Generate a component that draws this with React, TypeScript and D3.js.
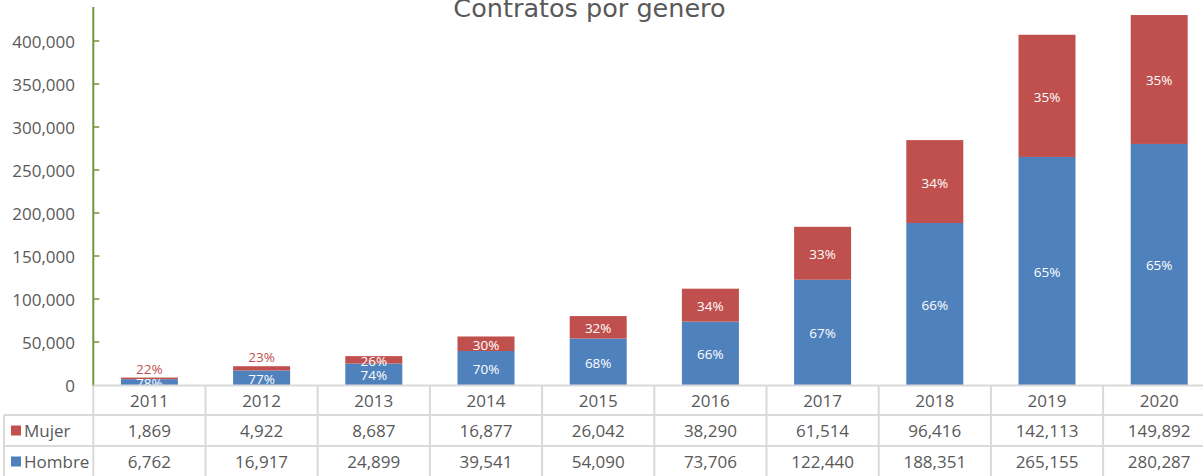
import React from "react";
import * as d3 from "d3";

const years = ["2011", "2012", "2013", "2014", "2015", "2016", "2017", "2018", "2019", "2020"];
const mujer = [1869, 4922, 8687, 16877, 26042, 38290, 61514, 96416, 142113, 149892];
const hombre = [6762, 16917, 24899, 39541, 54090, 73706, 122440, 188351, 265155, 280287];
const yTicks = [0, 50000, 100000, 150000, 200000, 250000, 300000, 350000, 400000];
const seriesNames = ["Mujer", "Hombre"];

const W = 1203;
const H = 476;
const BLUE = "#4F81BD";
const RED = "#C0504D";
const GRID = "#D9D9D9";
const TEXT = "#595959";
const AXIS = "#77933C";
const FONT = "'Open Sans', sans-serif";

export default function App() {
  const plotLeft = 93.3;
  const band = 112.2;
  const zeroY = 385;
  const x = d3.scaleBand<string>().domain(years).range([plotLeft, plotLeft + band * years.length]).paddingInner(0).paddingOuter(0);
  const y = d3.scaleLinear().domain([0, 400000]).range([zeroY, 41]);
  const barW = x.bandwidth() * 0.508;
  const fmt = d3.format(",");

  const rows = years.map((yr, i) => {
    const total = mujer[i] + hombre[i];
    return {
      yr,
      h: hombre[i],
      m: mujer[i],
      total,
      pm: Math.round((mujer[i] / total) * 100),
      ph: Math.round((hombre[i] / total) * 100),
    };
  });

  const tableTop = zeroY + 0.5;
  const row1 = 415;
  const row2 = 446;
  const tableBottom = H + 5;
  const xRight = W + 5;

  return (
    <svg width={W} height={H} style={{ position: "absolute", left: 0, top: 0, background: "#fff" }}>
      <defs>
        <clipPath id="plotClip">
          <rect x={plotLeft} y={0} width={W} height={zeroY} />
        </clipPath>
      </defs>
      <rect x={0} y={0} width={W} height={H} fill="#fff" />
      <text x={589.5} y={17.3} textAnchor="middle" fontFamily="'DejaVu Sans', sans-serif" fontSize={25.5} fill={TEXT}>
        Contratos por genero
      </text>

      {/* bars */}
      {rows.map((r) => {
        const cx = (x(r.yr) as number) + x.bandwidth() / 2;
        const yH = y(r.h);
        const yT = y(r.total);
        return (
          <g key={r.yr}>
            <rect x={cx - barW / 2} y={yH} width={barW} height={zeroY - yH} fill={BLUE} />
            <rect x={cx - barW / 2} y={yT} width={barW} height={yH - yT} fill={RED} />
          </g>
        );
      })}

      {/* labels */}
      <g clipPath="url(#plotClip)" fontFamily={FONT} fontSize={13.5}>
        {rows.map((r) => {
          const cx = (x(r.yr) as number) + x.bandwidth() / 2;
          const yH = y(r.h);
          const yT = y(r.total);
          const mh = yH - yT;
          const outside = mh < 6;
          return (
            <g key={r.yr}>
              <text x={cx} y={(zeroY + yH) / 2 + 1} textAnchor="middle" dominantBaseline="central" fill="#fff">
                {r.ph}%
              </text>
              <text
                x={cx}
                y={outside ? yT - 9 : (yT + yH) / 2 + 1}
                textAnchor="middle"
                dominantBaseline="central"
                fill={outside ? RED : "#fff"}
              >
                {r.pm}%
              </text>
            </g>
          );
        })}
      </g>

      {/* y axis */}
      <line x1={plotLeft} x2={plotLeft} y1={7} y2={zeroY + 1} stroke={AXIS} strokeWidth={2} />
      {yTicks.map((t) => (
        <g key={t}>
          {t > 0 && <line x1={plotLeft} x2={plotLeft + 6} y1={y(t)} y2={y(t)} stroke={AXIS} strokeWidth={1.5} />}
          <text x={75} y={y(t)} textAnchor="end" dominantBaseline="central" fontFamily={FONT} fontSize={17} fill={TEXT}>
            {fmt(t)}
          </text>
        </g>
      ))}

      {/* data table */}
      <g stroke={GRID} strokeWidth={2} fill="none">
        <line x1={plotLeft} x2={xRight} y1={tableTop} y2={tableTop} />
        <line x1={4} x2={xRight} y1={row1} y2={row1} />
        <line x1={4} x2={xRight} y1={row2} y2={row2} />
        <line x1={4} x2={4} y1={row1} y2={tableBottom} />
        {years.map((yr) => (
          <line key={yr} x1={x(yr) as number} x2={x(yr) as number} y1={zeroY + 1} y2={tableBottom} />
        ))}
        <line x1={x.range()[1]} x2={x.range()[1]} y1={zeroY} y2={tableBottom} />
      </g>
      <g fontFamily={FONT} fontSize={17} fill={TEXT} textAnchor="middle">
        {rows.map((r) => {
          const cx = (x(r.yr) as number) + x.bandwidth() / 2;
          return (
            <g key={r.yr}>
              <text x={cx} y={(tableTop + row1) / 2} dominantBaseline="central">{r.yr}</text>
              <text x={cx} y={(row1 + row2) / 2} dominantBaseline="central">{fmt(r.m)}</text>
              <text x={cx} y={row2 + 15.5} dominantBaseline="central">{fmt(r.h)}</text>
            </g>
          );
        })}
      </g>
      {/* legend keys */}
      {seriesNames.map((s, i) => {
        const cy = i === 0 ? (row1 + row2) / 2 : row2 + 15.5;
        return (
          <g key={s}>
            <rect x={11} y={cy - 5} width={10} height={10} fill={i === 0 ? RED : BLUE} />
            <text x={24} y={cy} dominantBaseline="central" fontFamily={FONT} fontSize={17} fill={TEXT}>
              {s}
            </text>
          </g>
        );
      })}
    </svg>
  );
}
